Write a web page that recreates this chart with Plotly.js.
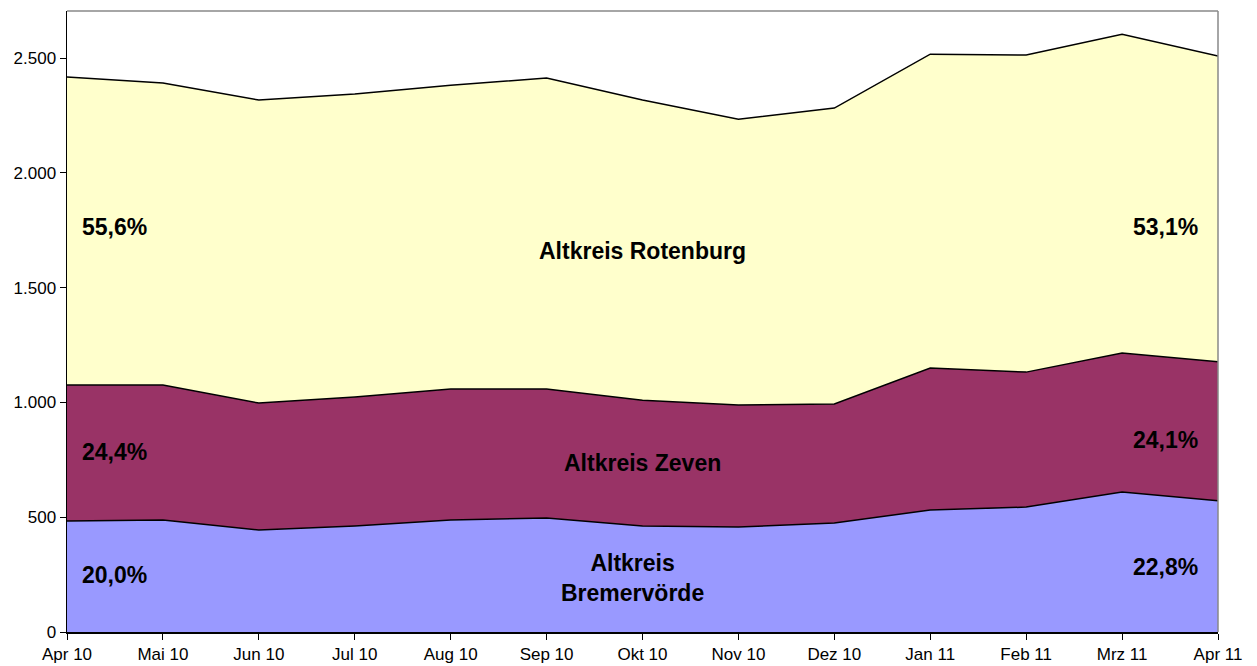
<!DOCTYPE html>
<html>
<head>
<meta charset="utf-8">
<script src="https://cdn.plot.ly/plotly-3.0.1.min.js"></script>
<style>html,body{margin:0;padding:0;background:#fff;}#chart{width:1257px;height:666px;}</style>
</head>
<body>
<div id="chart"></div>
<script>
const months = ["Apr 10","Mai 10","Jun 10","Jul 10","Aug 10","Sep 10","Okt 10","Nov 10","Dez 10","Jan 11","Feb 11","Mrz 11","Apr 11"];
const bremervoerde = [483,488,444,462,488,497,462,457,475,531,544,610,572];
const zeven = [593,588,553,562,570,561,548,532,518,619,588,605,605];
const rotenburg = [1341,1315,1320,1319,1324,1355,1307,1245,1289,1367,1381,1389,1332];
const yTicks = [0,500,1000,1500,2000,2500];

const lineStyle = {color:"#000000", width:1.5};
const traces = [
  {x:months, y:bremervoerde, name:"Altkreis Bremervörde", type:"scatter", mode:"lines", stackgroup:"one", fillcolor:"#9999FF", line:lineStyle, hoverinfo:"x+y"},
  {x:months, y:zeven, name:"Altkreis Zeven", type:"scatter", mode:"lines", stackgroup:"one", fillcolor:"#993366", line:lineStyle, hoverinfo:"x+y"},
  {x:months, y:rotenburg, name:"Altkreis Rotenburg", type:"scatter", mode:"lines", stackgroup:"one", fillcolor:"#FFFFCC", line:lineStyle, hoverinfo:"x+y"}
];

const lf = {family:"Liberation Sans, Arial, sans-serif", size:23, color:"#000"};
function ann(text, x, y){ return {text:"<b>"+text+"</b>", x:x, y:y, xref:"paper", yref:"paper", showarrow:false, font:lf, xanchor:"center", yanchor:"middle"}; }

const layout = {
  width:1257, height:666,
  margin:{l:67, r:39, t:11, b:34},
  paper_bgcolor:"#fff", plot_bgcolor:"#fff",
  separators:",.",
  showlegend:false,
  font:{family:"Liberation Sans, Arial, sans-serif", size:17, color:"#000"},
  xaxis:{type:"category", range:[0,12], showline:true, linecolor:"#000", linewidth:1.5, ticks:"outside", ticklen:6, tickcolor:"#000", showgrid:false, zeroline:false, tickfont:{size:17}},
  yaxis:{range:[0,2705], tickvals:yTicks, tickformat:",d", showline:true, linecolor:"#000", linewidth:1.5, ticks:"outside", ticklen:6, tickcolor:"#000", showgrid:false, zeroline:false, tickfont:{size:17}},
  shapes:[
    {type:"line", xref:"paper", yref:"paper", x0:0, x1:1, y0:1, y1:1, line:{color:"#888", width:1.5}},
    {type:"line", xref:"paper", yref:"paper", x0:1, x1:1, y0:0, y1:1, line:{color:"#888", width:1.5}}
  ],
  annotations:[
    ann("55,6%", 0.0417, 0.652),
    ann("Altkreis Rotenburg", 0.4996, 0.6135),
    ann("53,1%", 0.954, 0.652),
    ann("24,4%", 0.0417, 0.290),
    ann("Altkreis Zeven", 0.4996, 0.272),
    ann("24,1%", 0.954, 0.309),
    ann("20,0%", 0.0417, 0.0918),
    ann("Altkreis<br>Bremervörde", 0.491, 0.087),
    ann("22,8%", 0.954, 0.1047)
  ]
};
Plotly.newPlot("chart", traces, layout, {displayModeBar:false, staticPlot:true});
</script>
</body>
</html>
